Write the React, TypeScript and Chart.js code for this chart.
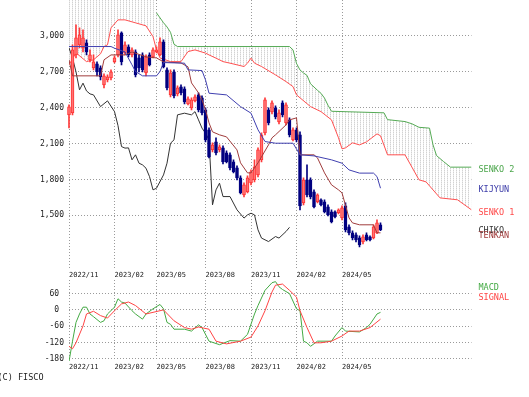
import React, { useEffect, useRef } from 'react';
import { Chart, registerables } from 'chart.js';

Chart.register(...registerables);

// ---- axis ticks ----
const monthTickIdx = [0, 13, 25, 39, 52, 65, 78];
const monthTickLabels = ['2022/11', '2023/02', '2023/05', '2023/08', '2023/11', '2024/02', '2024/05'];
const priceTicks = [1500, 1800, 2100, 2400, 2700, 3000];
const macdTicks = [-180, -120, -60, 0, 60];

// ---- weekly candles (index = week number) ----
const candleOpen = [2340, 2357, 2841, 2925, 2900, 2942, 2799, 2733, 2766, 2733, 2591, 2632, 2649, 2783, 2841, 3025, 2858, 2908, 2841, 2866, 2816, 2841, 2691, 2841, 2825, 2866, 2841, 2950, 2716, 2507, 2699, 2515, 2574, 2557, 2432, 2398, 2457, 2507, 2482, 2382, 2214, 2047, 2114, 2047, 2064, 2022, 2006, 1947, 1897, 1813, 1671, 1696, 1772, 1797, 1839, 1964, 2189, 2382, 2365, 2398, 2281, 2440, 2273, 2298, 2131, 2214, 2173, 1604, 1797, 1797, 1696, 1613, 1629, 1613, 1571, 1529, 1529, 1521, 1479, 1579, 1404, 1354, 1337, 1312, 1278, 1337, 1320, 1312, 1354, 1421];
const candleHigh = [2423, 2925, 3092, 3067, 3050, 2967, 2883, 2841, 2783, 2749, 2682, 2674, 2716, 2833, 3050, 3033, 2950, 2925, 2900, 2883, 2841, 2858, 2841, 2858, 2900, 2908, 2983, 2967, 2733, 2716, 2716, 2582, 2591, 2574, 2490, 2482, 2507, 2524, 2499, 2398, 2231, 2106, 2148, 2089, 2081, 2039, 2022, 1964, 1914, 1830, 1772, 1830, 1880, 1964, 2064, 2189, 2482, 2398, 2457, 2415, 2382, 2457, 2440, 2315, 2231, 2231, 2198, 1813, 1922, 1813, 1713, 1680, 1638, 1629, 1588, 1546, 1538, 1554, 1579, 1604, 1421, 1371, 1354, 1329, 1337, 1354, 1329, 1421, 1462, 1437];
const candleLow = [2231, 2340, 2816, 2900, 2866, 2841, 2783, 2716, 2666, 2632, 2565, 2616, 2632, 2774, 2825, 2758, 2841, 2825, 2825, 2657, 2699, 2699, 2666, 2749, 2816, 2858, 2833, 2733, 2549, 2490, 2482, 2499, 2507, 2432, 2423, 2382, 2448, 2365, 2340, 2114, 1980, 2031, 2006, 2031, 1930, 1939, 1880, 1855, 1797, 1680, 1655, 1688, 1755, 1780, 1822, 1947, 2173, 2256, 2348, 2306, 2265, 2323, 2256, 2156, 2123, 2114, 1546, 1588, 1655, 1638, 1563, 1604, 1579, 1521, 1496, 1437, 1479, 1512, 1462, 1362, 1337, 1295, 1278, 1237, 1262, 1287, 1287, 1304, 1346, 1371];
const candleClose = [2407, 2883, 2983, 3008, 2983, 2866, 2841, 2783, 2699, 2657, 2666, 2657, 2699, 2816, 3008, 2783, 2925, 2841, 2883, 2674, 2733, 2716, 2825, 2758, 2883, 2883, 2950, 2741, 2565, 2691, 2499, 2565, 2524, 2448, 2474, 2465, 2490, 2382, 2357, 2131, 1989, 2089, 2022, 2072, 1947, 1947, 1897, 1863, 1813, 1688, 1755, 1813, 1863, 1905, 2047, 2173, 2465, 2273, 2440, 2323, 2357, 2340, 2423, 2173, 2214, 2131, 1579, 1797, 1671, 1655, 1571, 1671, 1588, 1529, 1504, 1446, 1487, 1546, 1563, 1379, 1354, 1312, 1295, 1253, 1320, 1295, 1295, 1404, 1437, 1379];

// ---- Ichimoku lines: [week index, value] ----
const tenkanLine = [[0, 2800], [1, 2666], [9, 2666], [10, 2800], [12, 2841], [16, 2841], [18, 2866], [22, 2825], [25, 2816], [27, 2783], [32, 2774], [34, 2741], [35, 2607], [37, 2524], [38, 2465], [39, 2382], [40, 2273], [41, 2198], [43, 2173], [45, 2156], [48, 2047], [49, 1939], [51, 1855], [52, 1855], [54, 1939], [57, 2089], [58, 2148], [59, 2173], [62, 2256], [63, 2298], [65, 2315], [66, 2006], [70, 2006], [71, 1980], [73, 1855], [75, 1755], [77, 1713], [78, 1688], [80, 1479], [81, 1437], [83, 1421], [87, 1421], [88, 1354], [89, 1354]];
const kijunLine = [[0, 2911], [12, 2911], [13, 2897], [16, 2866], [18, 2758], [19, 2702], [21, 2666], [25, 2666], [26, 2702], [27, 2777], [33, 2772], [34, 2716], [38, 2710], [39, 2632], [40, 2521], [45, 2507], [49, 2409], [52, 2354], [54, 2215], [56, 2117], [59, 2103], [64, 2103], [66, 2006], [70, 1997], [75, 1964], [78, 1936], [80, 1880], [83, 1853], [87, 1853], [88, 1824], [89, 1727]];
const chikoLine = [[0, 2900], [1, 2816], [2, 2699], [3, 2549], [4, 2605], [5, 2540], [6, 2515], [7, 2507], [9, 2409], [11, 2457], [13, 2367], [14, 2250], [15, 2075], [16, 2062], [17, 2064], [18, 1964], [19, 2006], [20, 1936], [21, 1922], [22, 1894], [23, 1824], [24, 1713], [25, 1727], [27, 1838], [28, 1936], [29, 2103], [30, 2131], [31, 2340], [33, 2354], [35, 2340], [36, 2367], [37, 2298], [38, 2229], [39, 2187], [40, 2131], [41, 1588], [42, 1713], [43, 1769], [44, 1657], [46, 1657], [48, 1546], [50, 1477], [51, 1504], [52, 1518], [53, 1504], [54, 1379], [55, 1310], [57, 1281], [59, 1323], [60, 1310], [62, 1365], [63, 1400]];
const senko1Line = [[0, 2758], [2, 2858], [5, 2785], [7, 2800], [9, 2850], [10, 2911], [11, 2925], [12, 3067], [14, 3134], [16, 3134], [19, 3109], [22, 3084], [24, 2994], [25, 2883], [26, 2816], [29, 2785], [32, 2785], [34, 2869], [36, 2883], [39, 2856], [40, 2841], [42, 2814], [44, 2785], [46, 2772], [48, 2758], [50, 2744], [51, 2772], [52, 2814], [53, 2772], [55, 2744], [59, 2674], [62, 2618], [64, 2576], [65, 2507], [69, 2409], [72, 2367], [75, 2298], [77, 2148], [78, 2056], [79, 2064], [81, 2106], [83, 2089], [85, 2114], [88, 2181], [89, 2165], [91, 2006], [96, 2006], [100, 1797], [102, 1780], [106, 1646], [111, 1630], [115, 1546]];
const senko2Line = [[0, 3420], [24, 3420], [25, 3192], [27, 3110], [28, 3075], [29, 3030], [30, 2930], [31, 2911], [63, 2911], [64, 2883], [65, 2770], [66, 2715], [67, 2690], [68, 2670], [69, 2600], [71, 2545], [72, 2520], [73, 2480], [74, 2420], [75, 2370], [90, 2357], [91, 2300], [96, 2284], [98, 2265], [100, 2236], [103, 2229], [104, 2090], [105, 2000], [107, 1950], [109, 1903], [115, 1903]];

// ---- MACD panel: [week index, value] ----
const macdLine = [[0, -190], [1, -115], [2, -46], [3, -15], [4, 10], [5, 10], [6, -15], [7, -25], [9, -46], [10, -40], [11, -15], [13, 10], [14, 41], [15, 29], [16, 25], [18, -3], [19, -15], [21, -34], [22, -15], [24, 4], [26, 20], [27, 4], [28, -46], [29, -53], [30, -71], [33, -71], [35, -78], [37, -55], [38, -65], [40, -115], [43, -128], [46, -113], [49, -115], [51, -90], [53, -15], [54, 16], [56, 72], [58, 100], [59, 104], [60, 85], [61, 75], [63, 60], [65, 4], [66, -3], [67, -115], [68, -121], [69, -134], [71, -115], [75, -115], [76, -96], [78, -65], [79, -78], [83, -81], [85, -65], [86, -53], [88, -15], [89, -9]];
const signalLine = [[0, -134], [1, -143], [2, -121], [4, -59], [5, -15], [7, -5], [9, -21], [11, -30], [13, -3], [15, 22], [17, 29], [19, 16], [22, -15], [24, -9], [27, 0], [30, -40], [33, -65], [35, -71], [37, -63], [40, -71], [42, -115], [45, -125], [49, -115], [52, -100], [54, -59], [56, -3], [58, 66], [59, 91], [61, 95], [63, 72], [65, 47], [66, -3], [68, -65], [70, -121], [72, -121], [75, -115], [78, -96], [80, -78], [83, -78], [86, -65], [89, -34]];

const MONO = '"DejaVu Sans Mono", "Liberation Mono", monospace';
const X_MAX = 115;

const pts = (arr: number[][]) => arr.map(([x, y]) => ({ x, y }));

function makeHatch(): CanvasPattern | string {
  const c = document.createElement('canvas');
  c.width = 3;
  c.height = 2;
  const g = c.getContext('2d');
  if (!g) return '#eeeeee';
  g.fillStyle = '#d2d2d2';
  g.fillRect(0, 0, 1, 1);
  g.fillStyle = '#ebebeb';
  g.fillRect(0, 1, 1, 1);
  const pat = g.createPattern(c, 'repeat');
  return pat || '#eeeeee';
}

function xScale(height: number, pad: number) {
  return {
    type: 'linear',
    min: 0,
    max: X_MAX,
    offset: false,
    position: 'bottom',
    grid: { color: '#9a9a9a', drawTicks: false, lineWidth: 1, offset: false },
    border: { display: false, dash: [1, 2] },
    afterBuildTicks: (s: any) => {
      s.ticks = monthTickIdx.map((v) => ({ value: v }));
    },
    afterFit: (s: any) => {
      s.height = height;
    },
    ticks: {
      autoSkip: false,
      maxRotation: 0,
      minRotation: 0,
      align: 'start',
      padding: pad,
      color: '#222',
      font: { family: MONO, size: 7 },
      callback: (v: any) => {
        const k = monthTickIdx.indexOf(Number(v));
        return k >= 0 ? monthTickLabels[k] : '';
      },
    },
  };
}

function yScale(min: number, max: number, ticks: number[], fmt: (v: number) => string) {
  return {
    type: 'linear',
    min,
    max,
    position: 'left',
    grid: { color: '#9a9a9a', drawTicks: false, lineWidth: 1 },
    border: { display: false, dash: [1, 2] },
    afterBuildTicks: (s: any) => {
      s.ticks = ticks.map((v) => ({ value: v }));
    },
    afterFit: (s: any) => {
      s.width = 69;
    },
    ticks: {
      padding: 5,
      color: '#222',
      font: { family: MONO, size: 8 },
      callback: (v: any) => fmt(Number(v)),
    },
  };
}

const lineDs = (data: number[][], color: string, order: number, extra: any = {}) => ({
  type: 'line',
  data: pts(data),
  borderColor: color,
  borderWidth: 1,
  pointRadius: 0,
  tension: 0,
  fill: false,
  order,
  ...extra,
});

export default function App() {
  const mainRef = useRef<HTMLCanvasElement>(null);
  const macdRef = useRef<HTMLCanvasElement>(null);

  useEffect(() => {
    if (!mainRef.current || !macdRef.current) return;
    const hatch = makeHatch();

    const up = candleClose.map((c, i) => c >= candleOpen[i]);
    const bodies = candleOpen.map((o, i) => ({ x: i, y: [o, candleClose[i]] }));
    const wicks = candleLow.map((l, i) => ({ x: i, y: [l, candleHigh[i]] }));
    const bodyFill = up.map((u) => (u ? '#ff7474' : '#000080'));
    const bodyEdge = up.map((u) => (u ? '#ff3030' : '#000080'));
    const wickCol = up.map((u) => (u ? '#ff3a3a' : '#000080'));

    const green = '#55aa55';

    const main = new Chart(mainRef.current, {
      type: 'line',
      data: {
        datasets: [
          lineDs(kijunLine, '#4040b0', 1),
          lineDs(tenkanLine, '#a03c3c', 2),
          {
            type: 'bar',
            data: bodies,
            backgroundColor: bodyFill,
            borderColor: bodyEdge,
            borderWidth: 1,
            borderSkipped: false,
            barThickness: 3,
            grouped: false,
            minBarLength: 1,
            order: 3,
            clip: { left: 3, right: 0, top: 0, bottom: 0 },
          },
          {
            type: 'bar',
            data: wicks,
            backgroundColor: wickCol,
            borderWidth: 0,
            barThickness: 1,
            grouped: false,
            order: 4,
            clip: { left: 3, right: 0, top: 0, bottom: 0 },
          },
          lineDs(chikoLine, '#333333', 5),
          lineDs(senko2Line, green, 6, {
            segment: {
              borderColor: (c: any) =>
                c.p0.parsed.y > 3300 || c.p1.parsed.y > 3300 ? 'rgba(0,0,0,0)' : green,
            },
          }),
          lineDs(senko1Line, '#ff5050', 7, { fill: { target: 5 }, backgroundColor: hatch }),
        ],
      } as any,
      options: {
        animation: false,
        responsive: false,
        maintainAspectRatio: false,
        devicePixelRatio: 1,
        layout: { padding: { top: 10, left: 0, right: 57.5, bottom: 0 } },
        plugins: { legend: { display: false }, tooltip: { enabled: false } },
        scales: {
          x: xScale(12, 3),
          y: yScale(1060, 3300, priceTicks, (v) => v.toLocaleString('en-US')),
        },
      } as any,
    });

    const macd = new Chart(macdRef.current, {
      type: 'line',
      data: {
        datasets: [
          lineDs(signalLine, '#ff4444', 1),
          lineDs(macdLine, '#44aa44', 2),
        ],
      } as any,
      options: {
        animation: false,
        responsive: false,
        maintainAspectRatio: false,
        devicePixelRatio: 1,
        layout: { padding: { top: 10, left: 0, right: 57.5, bottom: 0 } },
        plugins: { legend: { display: false }, tooltip: { enabled: false } },
        scales: {
          x: xScale(36, 1.5),
          y: yScale(-188, 110, macdTicks, (v) => (v >= 0 ? `${v} ` : `${v}`)),
        },
      } as any,
    });

    return () => {
      main.destroy();
      macd.destroy();
    };
  }, []);

  const lbl = (text: string, top: number, color: string, left = 478.5) => (
    <div
      style={{
        position: 'absolute',
        left,
        top,
        fontFamily: MONO,
        fontSize: 8.5,
        lineHeight: '8.5px',
        color,
        whiteSpace: 'pre',
      }}
    >
      {text}
    </div>
  );

  return (
    <div
      style={{
        position: 'fixed',
        left: 0,
        top: 0,
        width: 529,
        height: 397,
        background: '#fff',
        overflow: 'hidden',
      }}
    >
      <canvas
        ref={mainRef}
        width={529}
        height={290}
        style={{ position: 'absolute', left: 0, top: -10, width: 529, height: 290 }}
      />
      <canvas
        ref={macdRef}
        width={529}
        height={127}
        style={{ position: 'absolute', left: 0, top: 270, width: 529, height: 127 }}
      />
      {lbl('SENKO 2', 165, '#4ca64c')}
      {lbl('KIJYUN', 185, '#3b3ba8')}
      {lbl('SENKO 1', 208, '#ff4a4a')}
      {lbl('CHIKO', 226, '#333333')}
      {lbl('TENKAN', 231, '#a03a3a')}
      {lbl('MACD', 283, '#44aa44')}
      {lbl('SIGNAL', 293, '#ff4444')}
      {lbl('(C) FISCO', 373, '#222222', -2.5)}
    </div>
  );
}
